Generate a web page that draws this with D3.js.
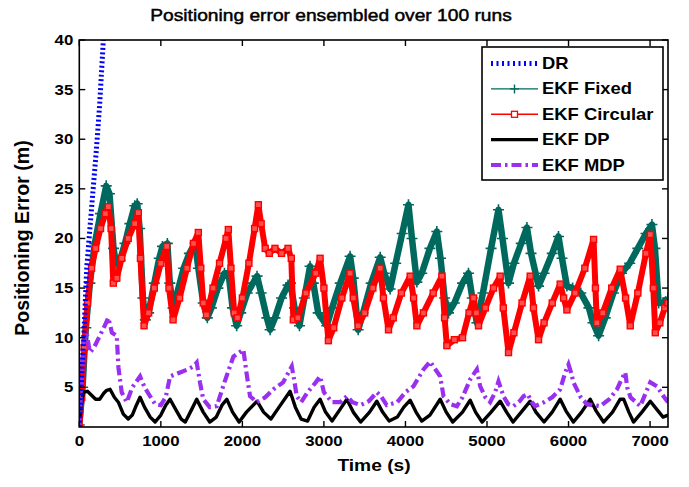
<!DOCTYPE html>
<html>
<head>
<meta charset="utf-8">
<script src="https://cdn.jsdelivr.net/npm/d3@7/dist/d3.min.js"></script>
<style>
  html, body { margin: 0; padding: 0; background: #fff; }
  svg { display: block; font-family: "Liberation Sans", Arial, sans-serif; }
</style>
</head>
<body>
<svg id="chart" width="689" height="487"></svg>
<script>
// Ensemble positioning error, time (s) vs error (m)
const xTicks = [0, 1000, 2000, 3000, 4000, 5000, 6000, 7000];
const yTicks = [5, 10, 15, 20, 25, 30, 35, 40];
const seriesNames = ["DR", "EKF Fixed", "EKF Circular", "EKF DP", "EKF MDP"];

const drTime = [0, 30, 60, 91, 130, 170, 210, 250, 295, 320];
const drErr  = [1, 6, 11, 17, 21, 25, 29, 33.5, 40, 44];

const fixedTime = [0,40,80,130,190,260,330,370,420,450,500,560,620,680,710,740,780,810,850,920,980,1020,1080,1110,1150,1200,1280,1350,1420,1460,1520,1570,1620,1700,1780,1830,1880,1930,1980,2060,2130,2180,2230,2300,2340,2400,2480,2560,2590,2640,2700,2760,2830,2870,2930,3035,3100,3200,3321,3360,3420,3480,3580,3690,3740,3812,3880,3960,4037,4080,4140,4200,4300,4385,4430,4480,4528,4600,4700,4773,4820,4876,4950,5050,5141,5190,5264,5330,5420,5490,5540,5632,5700,5800,5877,5920,5980,6050,6150,6250,6300,6369,6450,6550,6650,6750,6850,6950,7023,7060,7105,7160,7220];
const fixedErr  = [1.2,5,11,15.5,19.5,22.5,25.3,24.5,19,17.5,17.8,19.5,21.5,23.3,23.5,21,14,11.8,12.5,15.5,18,19.2,19.5,15.5,13,14.5,17,18.5,19.5,17,13.5,12,13,15,16.5,16.5,13,11.2,12.5,14.5,15.5,16.2,14.5,12,10.8,12,14,15.3,15.5,13,11.2,14,17.2,15.5,12.5,11.2,13,15.5,18.2,16,10.8,12.5,15.5,18.1,16.5,14.9,17.5,20.5,23.4,20,15.6,16.5,19,20.7,18,14,12.5,13.5,15.5,16.5,14,11.5,14.5,19,22.9,20,15.5,17.5,19.5,21.1,18.5,15.2,16.5,18.5,20.2,18,15.2,15,14.5,13,11.5,10.2,12,14.5,16.5,17.5,19,20.5,21.4,19,13.5,13.5,14];

const circTime = [0,30,60,100,150,200,260,320,356,390,417,460,520,600,680,724,750,794,850,920,1000,1072,1100,1150,1230,1320,1400,1460,1490,1520,1560,1640,1720,1800,1828,1860,1900,1940,2000,2080,2150,2196,2230,2280,2330,2400,2480,2560,2600,2625,2680,2780,2900,2953,3000,3055,3120,3220,3321,3360,3420,3500,3600,3690,3730,3792,3850,3950,4058,4100,4140,4220,4340,4447,4480,4508,4600,4700,4780,4835,4870,4896,4980,5080,5162,5200,5264,5330,5430,5530,5570,5632,5700,5800,5898,5940,5980,6080,6200,6307,6330,6348,6420,6530,6634,6700,6757,6850,6950,7003,7040,7064,7120,7180,7220];
const circErr  = [1,4,9,13.5,17,19,21,22.5,23.2,21,15.5,16,18,20,21.5,22.6,18,11.2,12.5,15,17.5,19.2,15,11.8,14,17,19.5,20.6,17,13.5,12.3,15,17.5,20,20.9,17,12.5,12,14,17.5,21,23.4,21.5,19,18.5,19,18.5,19,18,11.8,12,14.5,16.5,18,15,9.7,11,14,16.5,14,11.2,12.5,15,17,14,10.8,12,14.5,16.2,14,11.2,12.5,14.5,16.2,12,9.2,9.8,10,12.5,14,12.5,11.2,13,15,16.2,13,8.5,10.5,13.5,16.2,13,9.8,11.5,13.5,15.4,14,12.8,14.5,17,19.9,15,11.5,12.5,15,16.9,14,11.2,14.5,18.5,20.4,15,10.5,11.5,13,13.5];

const dpTime = [0,20,50,100,150,200,250,300,336,377,430,479,540,600,650,700,745,800,870,930,1000,1060,1113,1180,1250,1300,1380,1440,1520,1600,1680,1750,1809,1880,1960,2050,2180,2260,2350,2450,2585,2650,2720,2800,2880,2953,3020,3100,3200,3281,3360,3450,3560,3649,3720,3800,3900,3980,4058,4130,4200,4300,4426,4500,4580,4700,4794,4860,4940,5050,5162,5240,5320,5420,5530,5600,5700,5800,5898,5970,6060,6160,6266,6340,6430,6540,6634,6676,6740,6797,6900,7003,7080,7160,7220];
const dpErr  = [1,3,4.5,4.6,4.2,3.8,3.8,4.4,4.7,4.8,4,3.5,2.3,1.8,2.2,3.2,4,3,2,1.5,2.2,3.2,3.8,2.8,1.8,1.5,2.8,3.8,2.5,1.5,2,3.2,3.8,2.5,1.5,2.5,3.6,2.5,1.8,3,4.6,3,1.8,1.6,3,3.8,2.5,1.6,2.8,3.8,2.5,1.5,2.5,3.6,2.5,1.6,2,3,3.7,2.5,1.6,2.2,3.8,2.5,1.5,2.5,3.7,2.5,1.5,2.5,3.6,2.5,1.5,2.5,3.6,2.5,1.5,2.5,3.8,2.6,1.5,2.5,3.8,2.6,1.5,2.5,3.8,3.8,2.5,1.5,2.5,3.6,2.8,2,2.2];

const mdpTime = [0,30,50,90,130,180,240,300,356,400,459,480,520,582,650,745,800,868,930,1000,1060,1113,1236,1330,1399,1440,1480,1520,1600,1686,1780,1890,2012,2050,2094,2180,2280,2380,2500,2606,2640,2667,2720,2800,2900,2953,3000,3100,3200,3281,3350,3450,3550,3650,3700,3770,3900,4000,4098,4221,4303,4350,4426,4467,4550,4631,4700,4794,4876,4917,4980,5039,5100,5141,5202,5260,5325,5400,5448,5500,5550,5590,5700,5800,5898,5960,6000,6030,6061,6150,6226,6300,6390,6500,6594,6650,6696,6720,6760,6880,6950,7003,7085,7165,7220];
const mdpErr  = [1,6,9.5,10.5,8.5,9,10,11,12,10.5,10.2,7,4.5,3.5,5,6.1,5,4.1,3.3,3.2,4,6.1,6.5,6.8,7.1,7.5,5.5,3.8,3,3.1,5.5,8.1,8.8,6.5,4.1,3.5,4,4.8,5.5,7.1,5.5,4.1,3.5,4.5,5.5,6.1,4.5,3.5,3.5,4.1,3.5,3.2,3.6,4.5,4.1,3.2,3.5,4.5,5.1,6.8,7.6,7,6.1,4.1,3.3,3.1,4,5.8,6.8,5.1,4,3.5,4.5,5.6,4.1,3.3,3.1,3.6,4.1,4.3,3.5,3.1,3.5,4,4.8,6.5,7.3,6.5,5.5,4,3.3,3.2,3.1,3.8,4.8,5.8,6.5,5,4,3.1,4.5,5.5,5.1,4.1,3.5];

const colors = {
  dr: "#0000ff",
  fixed: "#00695e",
  circ: "#ff0000",
  dp: "#000000",
  mdp: "#9a2ff0"
};

const plot = { left: 79.3, right: 668, top: 40, bottom: 427 };
const textStretch = 1.2;

const svg = d3.select("#chart");
const x = d3.scaleLinear().domain([0, 7220]).range([plot.left, plot.right]);
const y = d3.scaleLinear().domain([1, 40]).range([plot.bottom, plot.top]);

const zip = (ts, vs) => ts.map((t, i) => [t, vs[i]]);
const line = d3.line().x(d => x(d[0])).y(d => y(d[1]));

svg.append("defs").append("clipPath").attr("id", "plotClip")
  .append("rect")
  .attr("x", plot.left).attr("y", plot.top)
  .attr("width", plot.right - plot.left).attr("height", plot.bottom - plot.top);

const g = svg.append("g").attr("clip-path", "url(#plotClip)");

// EKF Fixed: thick band with plus markers
const fixedData = zip(fixedTime, fixedErr);
g.append("path").datum(fixedData).attr("d", line)
  .attr("fill", "none").attr("stroke", colors.fixed)
  .attr("stroke-width", 6.5).attr("stroke-linejoin", "round");
g.append("g").selectAll("path").data(fixedData).join("path")
  .attr("d", d => `M${x(d[0]) - 5.5},${y(d[1])}h11M${x(d[0])},${y(d[1]) - 5.5}v11`)
  .attr("stroke", colors.fixed).attr("stroke-width", 1.6).attr("fill", "none");

// EKF Circular: thick band with square markers
const circData = zip(circTime, circErr);
g.append("path").datum(circData).attr("d", line)
  .attr("fill", "none").attr("stroke", colors.circ)
  .attr("stroke-width", 6).attr("stroke-linejoin", "round");
g.append("g").selectAll("rect").data(circData).join("rect")
  .attr("x", d => x(d[0]) - 3).attr("y", d => y(d[1]) - 3)
  .attr("width", 6).attr("height", 6)
  .attr("fill", "#ff5050").attr("stroke", colors.circ).attr("stroke-width", 1.4);

// EKF DP: solid black
g.append("path").datum(zip(dpTime, dpErr)).attr("d", line)
  .attr("fill", "none").attr("stroke", colors.dp)
  .attr("stroke-width", 3.4).attr("stroke-linejoin", "round");

// EKF MDP: dash-dot purple
g.append("path").datum(zip(mdpTime, mdpErr)).attr("d", line)
  .attr("fill", "none").attr("stroke", colors.mdp)
  .attr("stroke-width", 4.2).attr("stroke-dasharray", "10,4,2.5,4");

// DR: dotted blue
g.append("path").datum(zip(drTime, drErr)).attr("d", line)
  .attr("fill", "none").attr("stroke", colors.dr)
  .attr("stroke-width", 5).attr("stroke-dasharray", "2,2.5");

// Axes box with inward ticks on all four sides
const axes = svg.append("g");
axes.append("rect")
  .attr("x", plot.left).attr("y", plot.top)
  .attr("width", plot.right - plot.left).attr("height", plot.bottom - plot.top)
  .attr("fill", "none").attr("stroke", "#000").attr("stroke-width", 1.6);

const tickLen = 6;
xTicks.forEach(t => {
  const px = x(t);
  axes.append("line").attr("x1", px).attr("x2", px)
    .attr("y1", plot.bottom).attr("y2", plot.bottom - tickLen)
    .attr("stroke", "#000").attr("stroke-width", 1.4);
  axes.append("line").attr("x1", px).attr("x2", px)
    .attr("y1", plot.top).attr("y2", plot.top + tickLen)
    .attr("stroke", "#000").attr("stroke-width", 1.4);
});
yTicks.forEach(v => {
  const py = y(v);
  axes.append("line").attr("x1", plot.left).attr("x2", plot.left + tickLen)
    .attr("y1", py).attr("y2", py)
    .attr("stroke", "#000").attr("stroke-width", 1.4);
  axes.append("line").attr("x1", plot.right).attr("x2", plot.right - tickLen)
    .attr("y1", py).attr("y2", py)
    .attr("stroke", "#000").attr("stroke-width", 1.4);
});

// Stretched text helper
function label(px, py, str, opts) {
  const o = Object.assign({ size: 14, weight: "bold", anchor: "middle", rotate: 0, sx: textStretch, sy: 1, halo: 0 }, opts || {});
  return svg.append("text")
    .attr("transform", `translate(${px},${py}) rotate(${o.rotate}) scale(${o.sx},${o.sy})`)
    .attr("text-anchor", o.anchor)
    .attr("dominant-baseline", "central")
    .attr("font-size", o.size)
    .attr("font-weight", o.weight)
    .attr("fill", "#000")
    .attr("stroke", o.halo ? "#000" : null)
    .attr("stroke-width", o.halo || null)
    .text(str);
}

xTicks.forEach(t => label(x(t), 441, String(t), { size: 14 }));
yTicks.forEach(v => label(plot.left - 6, y(v), String(v), { size: 14, anchor: "end" }));

label(374, 466, "Time (s)", { size: 16 });
label(22, 238, "Positioning Error (m)", { size: 17, rotate: -90, sx: 1.15, sy: 1.2 });
label(331, 16, "Positioning error ensembled over 100 runs", { size: 16, weight: "normal", halo: 0.45 });

// Legend
const leg = svg.append("g");
const lg = { x: 482, y: 47, w: 181, h: 133 };
leg.append("rect").attr("x", lg.x).attr("y", lg.y).attr("width", lg.w).attr("height", lg.h)
  .attr("fill", "#fff").attr("stroke", "#000").attr("stroke-width", 1.6);

const rowY = i => lg.y + 16.5 + i * 25.4;
const sx0 = 491, sx1 = 538, smid = (sx0 + sx1) / 2;

const sample = (i, color, width, dash) => leg.append("line")
  .attr("x1", sx0).attr("x2", sx1).attr("y1", rowY(i)).attr("y2", rowY(i))
  .attr("stroke", color).attr("stroke-width", width)
  .attr("stroke-dasharray", dash || null);

sample(0, colors.dr, 5, "2,3.5");
sample(1, colors.fixed, 1.4);
leg.append("path").attr("d", `M${smid - 4.5},${rowY(1)}h9M${smid},${rowY(1) - 4.5}v9`)
  .attr("stroke", colors.fixed).attr("stroke-width", 1.4);
sample(2, colors.circ, 1.4);
leg.append("rect").attr("x", smid - 3).attr("y", rowY(2) - 3).attr("width", 6).attr("height", 6)
  .attr("fill", "#fff").attr("stroke", colors.circ).attr("stroke-width", 1.3);
sample(3, colors.dp, 3.2);
sample(4, colors.mdp, 4, "10,4,2.5,4");

seriesNames.forEach((n, i) => {
  label(542, rowY(i), n, { size: 16, anchor: "start", sx: 1.15 });
});
</script>
</body>
</html>
